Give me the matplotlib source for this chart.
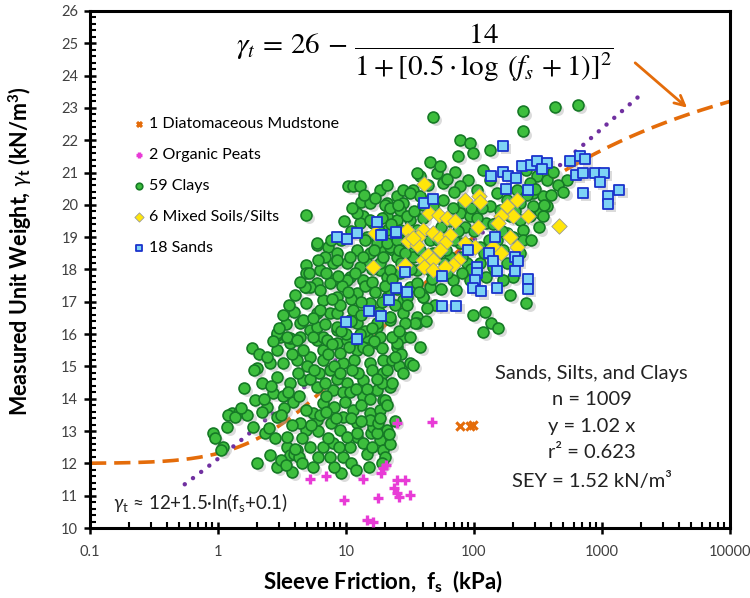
import numpy as np
import matplotlib
matplotlib.use("Agg")
import matplotlib.pyplot as plt
import matplotlib.transforms as mtransforms
from matplotlib.ticker import LogLocator, FuncFormatter, MultipleLocator

plt.rcParams['font.family'] = ['Lato', 'DejaVu Sans']
plt.rcParams['mathtext.fontset'] = 'custom'
plt.rcParams['mathtext.rm'] = 'Lato'
plt.rcParams['mathtext.it'] = 'Lato:italic'
plt.rcParams['mathtext.bf'] = 'Lato:bold'

# (sleeve friction fs kPa, unit weight kN/m3)
clays = [
    (0.92, 12.93), (0.95, 12.8), (1.1, 12.52), (1.05, 12.42), (1.17, 13.14), (1.28, 13.55), (1.2, 13.5),
    (1.45, 13.6), (1.6, 14.33), (1.83, 15.56), (2.0, 14.94), (1.9, 14.9), (1.95, 13.96), (1.89, 13.14),
    (2.0, 12.0), (2.55, 12.26), (2.87, 11.9), (3.76, 11.74), (2.33, 12.93), (2.79, 12.78), (3.44, 12.52),
    (3.65, 12.26), (4.12, 12.41), (5.23, 12.52), (6.64, 12.52), (7.97, 12.62), (9.5, 12.2), (9.2, 11.69),
    (10.7, 12.52), (12.1, 12.83), (13.7, 12.62), (15.8, 12.93), (18.4, 12.72), (17.4, 13.34), (20.8, 13.03),
    (19.6, 12.41), (15.4, 13.55), (11.4, 13.65), (12.1, 13.24), (8.97, 13.03), (7.6, 13.24), (5.9, 13.34),
    (4.9, 13.03), (4.37, 13.24), (3.44, 12.83), (2.87, 13.45), (2.4, 13.76), (2.7, 14.17), (3.24, 14.07),
    (3.88, 13.91), (5.55, 13.55), (6.64, 13.86), (7.97, 14.27), (5.9, 14.37), (4.6, 14.58), (3.65, 14.48),
    (2.87, 14.68), (2.55, 15.1), (2.87, 15.51), (3.65, 15.72), (4.37, 15.92), (3.05, 15.92), (3.24, 15.1),
    (4.12, 15.2), (5.23, 15.3), (6.64, 15.51), (7.5, 14.9), (9.5, 15.1), (10.1, 14.48), (13.7, 14.58),
    (13.7, 14.07), (17.4, 14.27), (19.6, 13.96), (15.4, 15.1), (19.6, 14.79), (12.1, 15.51), (17.4, 15.72),
    (8.45, 15.72), (5.9, 15.82), (8.0, 13.76), (9.5, 13.45), (16.4, 13.14), (10.1, 12.83), (4.9, 13.65),
    (3.9, 12.3), (4.3, 12.2), (4.0, 12.45),
    (4.9, 17.47), (6.64, 17.06), (7.5, 16.65), (5.9, 16.65), (4.37, 16.34), (2.87, 15.98), (3.65, 15.87),
    (5.23, 16.13), (6.64, 15.92), (8.45, 16.13), (10.7, 16.44), (15.4, 16.85), (17.4, 16.23), (22, 16.44),
    (24.9, 15.61), (31.6, 15.1), (28, 15.92), (13.7, 15.61), (9, 15.41), (6.64, 15.2), (19.6, 15.2),
    (22, 14.37), (15.4, 13.34), (17.4, 12.93), (12.1, 12.93),
    (4.9, 19.69), (10.4, 20.57), (11.4, 20.57), (12.8, 20.57), (13.2, 20.1), (13.7, 19.64), (12.8, 19.43),
    (5.9, 18.76), (7.3, 18.71), (8.45, 18.5), (4.9, 18.14), (4.9, 17.88), (6.25, 17.99), (7.97, 18.2),
    (10.1, 18.2), (12.1, 18.61), (20.8, 20.05), (24.9, 20.26), (16.4, 19.43), (20.8, 19.23), (14.5, 19.02),
    (18.4, 18.61), (23.3, 18.61), (14.5, 18.2), (18.4, 17.99), (10.7, 17.78), (7.97, 17.68), (5.9, 17.58),
    (5.23, 17.47), (4.78, 17.47), (5.1, 17.88), (20.1, 20.0), (5.9, 18.81), (8.45, 18.3), (10.7, 18.4),
    (12.8, 18.09), (15.4, 18.5), (17.4, 18.81), (22, 18.71), (24.9, 18.4), (18.4, 18.2), (20.8, 17.78),
    (13.7, 17.68), (10.1, 17.68), (7.5, 17.58), (6.25, 17.37), (8.45, 17.16), (12.1, 17.27), (15.4, 16.96),
    (11.4, 16.75), (8.45, 16.65), (6.25, 16.75), (4.9, 16.96), (4.6, 16.44), (5.9, 16.23), (8.45, 16.23),
    (12.1, 16.34), (17.4, 16.34), (22, 16.54), (28, 16.65), (35.7, 16.54), (28, 17.06), (20.8, 17.16),
    (31.6, 17.47), (40, 17.16), (45, 17.47), (35.7, 17.99), (45, 17.99), (31.6, 18.5), (35.7, 19.02),
    (28, 19.02), (31.6, 19.54), (28, 20.05), (33.5, 20.46), (37.8, 20.88), (45, 20.16), (57.5, 20.67),
    (51, 20.98), (24.9, 19.54), (15.4, 19.54), (12.1, 19.74), (15.4, 20.05), (18.4, 20.46), (28, 20.46),
    (2.87, 16.03), (3.44, 15.92), (4.12, 15.82), (5.55, 15.92), (7.05, 15.82), (10.1, 15.82), (14.5, 15.92),
    (18.4, 15.92), (24.9, 15.72), (31.6, 15.92), (35.7, 16.34),
    (48, 22.73), (243, 22.89), (430, 23.04), (653, 23.1), (243, 22.27), (78, 22.01), (93, 21.91),
    (98.5, 21.6), (75, 21.5), (45, 21.34), (54, 21.19), (35.7, 20.98), (133, 21.7), (71, 21.03),
    (90, 20.77), (118, 21.08), (78, 20.57), (105, 20.46), (133, 20.77), (257, 21.08), (310, 20.88),
    (370, 20.77), (418, 21.03), (530, 20.77), (272, 20.67), (215, 20.46), (290, 20.36), (346, 20.26),
    (370, 19.95), (330, 19.74), (290, 19.95), (228, 20.05), (180, 20.16), (150, 20.36), (160, 19.84),
    (133, 19.95), (111, 20.05), (82, 20.05), (57.5, 20.16), (48, 19.95), (37.8, 20.26), (31.6, 20.36),
    (26.3, 19.84), (20.8, 19.64), (29.7, 19.64), (57.5, 19.54), (78, 19.74), (93, 19.64), (125, 19.43),
    (191, 19.64), (228, 19.54), (272, 19.64), (346, 19.64), (243, 19.23), (180, 19.12), (150, 18.92),
    (111, 18.71), (78, 18.81), (61, 19.02), (45, 18.92), (35.7, 19.23), (26.3, 19.23), (20.8, 18.81),
    (26.3, 18.61), (33.5, 18.4), (48, 18.5), (65, 18.4), (88, 18.2), (111, 18.2), (141, 18.09),
    (180, 18.2), (203, 17.78), (169, 17.68), (125, 17.78), (93, 17.68), (69, 17.68), (48, 17.78),
    (35.7, 17.58), (26.3, 17.88), (22, 17.99), (22, 17.37), (29.7, 17.16), (40, 17.16), (73, 17.37),
    (191, 17.21), (257, 16.96), (98.5, 16.6), (122, 16.7), (137, 16.34), (155, 16.18), (118, 16.08),
    (34.5, 16.34), (29, 16.34), (33.5, 15.05), (19, 14.48), (20, 13.96), (18.4, 13.65), (17.8, 13.24),
    (19, 15.56), (22.7, 15.2),
    (9, 16.9), (11, 17.1), (13, 16.6), (14, 17.5), (16, 17.6), (10, 16.0), (11.5, 15.2), (12.5, 14.8),
    (9.5, 14.2), (8.5, 14.6), (7, 14.1), (6.2, 14.8), (7.2, 15.4), (10.5, 15.6), (14.5, 14.3), (16, 14.9),
    (16.5, 15.8), (23, 15.9), (26, 16.1), (30, 16.9), (25, 17.4), (27, 18.2), (38, 18.6), (42, 18.1),
    (52, 18.9), (58, 18.2), (62, 17.9), (55, 17.4), (50, 16.9), (42, 16.4), (30, 18.9), (22, 19.9),
    (18, 19.2), (40, 19.6), (55, 19.3), (68, 19.9), (85, 19.3), (100, 19.2), (120, 18.5), (95, 18.0),
    (80, 17.9), (70, 18.9), (38, 15.6), (26, 15.0), (23, 14.5), (21, 13.8), (24, 13.3), (22, 12.6),
    (14.5, 12.3), (11, 12.0), (8, 11.9), (6, 12.2), (3.1, 12.1), (4.5, 12.0), (3.3, 13.7), (2.2, 14.5),
    (2.5, 13.1), (1.7, 13.5), (2.1, 15.4), (3.4, 16.3), (3.9, 16.7), (5.5, 16.5), (6.8, 16.3), (7.8, 17.1),
    (9.3, 17.5), (11.8, 17.9), (13.5, 18.4), (6.9, 18.4), (9.2, 18.9), (11, 19.2), (16, 18.0), (20, 17.5),
    (24, 16.9), (18, 16.7), (14, 16.1), (8, 15.0), (5.2, 14.6), (4.3, 14.1), (6.0, 13.0), (7.2, 12.8),
    (8.8, 12.5), (13, 13.8), (11, 13.4), (27, 15.4), (16, 12.5), (20, 12.2),
    (1.35, 13.45), (1.5, 13.7), (2.2, 13.6), (2.3, 14.0), (2.6, 14.4), (2.4, 15.3), (2.7, 15.8), (3.0, 16.2),
    (3.2, 16.6), (3.6, 16.9), (4.0, 17.2), (4.4, 17.6), (3.8, 15.4), (4.6, 15.5), (5.0, 15.0), (5.6, 14.9),
    (4.2, 14.8), (3.5, 14.2), (3.1, 13.5), (3.8, 13.2), (4.5, 12.8), (5.3, 13.2), (6.3, 13.5), (7.0, 13.6),
    (8.4, 13.4), (9.8, 13.9), (10.8, 14.2), (12, 14.3), (11.2, 14.9), (9.0, 14.8), (6.8, 14.5), (7.8, 15.7),
    (9.2, 16.1), (11, 16.4), (12.8, 16.0), (14.8, 15.5), (16, 16.2), (13.2, 17.0), (10.3, 17.3), (8.6, 17.8),
    (7.0, 17.9), (6.0, 18.3), (7.6, 18.9), (9.6, 19.5), (11.2, 19.9), (13.8, 20.3), (16.8, 20.2), (19, 19.6),
    (22.5, 19.4), (25, 18.9), (19.6, 18.4), (16.7, 18.6), (14.2, 18.9), (17, 17.3), (19, 17.0), (23, 17.7),
    (26, 18.6), (29, 18.5), (32, 18.0), (37, 17.3), (43, 16.8), (47, 17.7), (52, 18.5), (60, 18.6),
    (65, 19.5), (75, 19.2), (80, 18.4), (88, 18.8), (105, 19.6), (115, 19.9), (140, 19.4), (165, 19.2),
    (200, 19.0), (240, 18.9), (210, 19.8), (260, 20.3), (300, 20.5), (350, 20.0), (400, 20.3), (450, 20.6),
    (500, 20.4), (320, 19.3), (280, 18.9), (230, 18.5), (170, 18.6), (130, 18.9), (95, 19.9), (70, 20.4),
    (62, 20.8), (44, 20.6), (40, 20.0), (34, 19.8), (25.5, 20.0), (21, 20.6), (24, 15.3), (28, 14.8),
    (21, 14.9), (17.5, 14.6), (15.5, 14.0), (13, 13.3), (18.5, 13.4), (21.5, 12.9), (19, 12.0), (15, 11.9),
    (12, 11.8), (7.5, 12.2), (5.5, 11.9), (3.4, 11.95),
]

sands = [
    (169, 21.81), (236, 21.21), (281, 21.24), (311, 21.36), (370, 21.29), (339, 21.12), (137, 20.9),
    (169, 21.03), (185, 20.9), (212, 20.83), (177, 20.49), (262, 20.46), (566, 21.37), (673, 21.5),
    (735, 21.43), (632, 20.93), (707, 21.0), (880, 21.0), (1032, 21.0), (960, 20.72), (710, 20.36),
    (1370, 20.46), (1112, 20.26), (1112, 20.03), (41, 20.05), (48, 20.18), (24.5, 19.14), (19, 19.07),
    (146, 19.02), (90, 18.61), (131, 18.52), (141, 18.25), (210, 18.4), (220, 18.25), (105, 18.09),
    (150, 17.94), (210, 17.94), (105, 17.88), (101, 17.68), (98.5, 17.42), (114, 17.32), (150, 17.42),
    (265, 17.7), (262, 17.4), (56, 17.81), (29, 17.92), (24.5, 17.42), (30, 17.3), (21.8, 17.06),
    (56, 16.87), (73, 16.87), (8.5, 19.0), (10.1, 18.94), (12.1, 19.12), (17.6, 19.48), (18.7, 19.07),
    (24.4, 19.15), (15.2, 16.73), (18.7, 16.57), (10.0, 16.39), (12.2, 15.85),
]

mixed = [
    (41, 20.64), (85, 20.16), (110, 20.26), (111, 20.1), (218, 20.16), (180, 19.97), (44.5, 19.74),
    (53.5, 19.69), (61, 19.59), (71, 19.5), (203, 19.64), (262, 19.64), (164, 19.66), (155, 19.43),
    (458, 19.36), (29.7, 19.23), (40, 19.23), (30.6, 18.87), (36.7, 19.02), (48, 19.12), (54, 18.97),
    (65, 19.07), (59, 18.81), (35.7, 18.76), (108, 19.33), (141, 18.71), (191, 19.02), (215, 18.71),
    (85, 18.81), (101, 18.71), (40, 18.3), (44, 18.45), (54, 18.61), (48, 18.3), (75, 18.3), (41, 18.09),
    (69, 18.14), (164, 18.52), (48, 17.99), (59, 18.09), (28, 18.09), (33.5, 18.97), (16.4, 18.09),
    (16.8, 19.12), (29, 18.14),
]

peats = [
    (5.2, 11.51), (7.0, 11.61), (9.6, 10.87), (13.7, 11.51), (14.6, 10.25), (16.3, 10.18), (17.9, 10.92),
    (18.7, 11.71), (19.5, 11.85), (20.5, 11.95), (23.7, 11.23), (24.9, 11.49), (24.9, 11.07), (26, 10.97),
    (28.7, 11.49), (31.6, 11.02), (25.2, 13.24), (47, 13.29),
]

mudstone = [(77.8, 13.17), (93, 13.17), (98.5, 13.19)]

# the two fitted relations written on the chart
fs_curve = np.logspace(-1, 4, 400)
gt_curve = 26 - 14 / (1 + (0.5 * np.log10(fs_curve + 1)) ** 2)
fs_ln = np.logspace(np.log10(0.55), np.log10(1950), 200)
gt_ln = 12 + 1.5 * np.log(fs_ln + 0.1)

fig = plt.figure(figsize=(7.5, 5.98), dpi=100)
ax = fig.add_axes([0.12, 0.117, 0.8533, 0.8647])

ax.plot(fs_curve, gt_curve, color='#E46C0A', lw=2.6, dashes=(4.5, 2.2), zorder=2)
ax.plot(fs_ln, gt_ln, color='#7030A0', lw=3.2, dashes=(0.01, 2.3), dash_capstyle='round', zorder=2)

shadow = ax.transData + mtransforms.ScaledTranslation(2.2 / 72, -2.2 / 72, fig.dpi_scale_trans)


def xy(pts):
    a = np.array(pts)
    return a[:, 0], a[:, 1]


cx, cy = xy(clays)
sx, sy = xy(sands)
mx, my = xy(mixed)
px, py = xy(peats)
dx, dy = xy(mudstone)

ax.scatter(cx, cy, s=62, marker='o', color='#9a9a9a', alpha=0.35, lw=0, transform=shadow, zorder=2.5)
ax.scatter(sx, sy, s=62, marker='s', color='#9a9a9a', alpha=0.35, lw=0, transform=shadow, zorder=2.5)

h_mud = ax.scatter(dx, dy, s=36, marker='x', color='#E46C0A', lw=2.2, zorder=5,
                   label='1 Diatomaceous Mudstone')
h_peat = ax.scatter(px, py, s=50, marker='+', color='#E83BD6', lw=2.4, zorder=5,
                    label='2 Organic Peats')
h_clay = ax.scatter(cx, cy, s=62, marker='o', facecolor='#3DBE3D', edgecolor='#167A26', lw=1.2,
                    zorder=3, label='59 Clays')
h_mix = ax.scatter(mx, my, s=62, marker='D', facecolor='#FFE60A', edgecolor='#9a9a9a', lw=0.6,
                   zorder=4, label='6 Mixed Soils/Silts')
h_sand = ax.scatter(sx, sy, s=62, marker='s', facecolor='#7DD3F5', edgecolor='#1A33CC', lw=1.3,
                    zorder=4.5, label='18 Sands')

ax.set_xscale('log')
ax.set_xlim(0.1, 10000)
ax.set_ylim(10, 26)

ax.yaxis.set_major_locator(MultipleLocator(1))
ax.yaxis.set_minor_locator(MultipleLocator(0.2))
ax.xaxis.set_major_locator(LogLocator(base=10))
ax.xaxis.set_minor_locator(LogLocator(base=10, subs=np.arange(2, 10)))
ax.xaxis.set_major_formatter(FuncFormatter(lambda v, p: '%g' % v))
ax.xaxis.set_minor_formatter(FuncFormatter(lambda v, p: ''))

ax.tick_params(which='major', direction='inout', length=9, width=1.8, labelsize=10.5,
               labelcolor='#404040', top=False, right=False)
ax.tick_params(which='minor', direction='in', length=4.5, width=1.5, top=False, right=False)
ax.tick_params(axis='x', which='major', pad=8)
ax.tick_params(axis='y', which='major', pad=4)
for sp in ax.spines.values():
    sp.set_linewidth(2.2)

ax.set_xlabel(r'Sleeve Friction,  f$_{\mathbf{s}}$  (kPa)', fontsize=16, fontweight='bold')
ax.set_ylabel(r'Measured Unit Weight, $\gamma_{\mathbf{t}}$ (kN/m$^{\mathbf{3}}$)', fontsize=15.5,
              fontweight='bold')
ax.xaxis.set_label_coords(0.458, -0.078)
ax.yaxis.set_label_coords(-0.088, 0.535)

leg = ax.legend(handles=[h_mud, h_peat, h_clay, h_mix, h_sand], loc='upper left',
                bbox_to_anchor=(0.054, 0.807), frameon=False, fontsize=11.5, markerscale=0.6,
                handletextpad=0.1, labelspacing=1.05, handlelength=1.0, borderaxespad=0)

ax.text(0.524, 0.919, r'$\gamma_t\, =\, 26\, -\, \dfrac{14}{1+[0.5\cdot\log\;(f_s\,+1)]^2}$',
        transform=ax.transAxes, ha='center', va='center', fontsize=21, math_fontfamily='stix')
ax.annotate('', xy=(4800, 22.95), xytext=(1750, 24.45),
            arrowprops=dict(arrowstyle='->', color='#E46C0A', lw=2, mutation_scale=18))

ax.text(0.784, 0.195, 'Sands, Silts, and Clays\nn = 1009\ny = 1.02 x\nr² = 0.623\nSEY = 1.52 kN/m³',
        transform=ax.transAxes, ha='center', va='center', fontsize=14.5, linespacing=1.68,
        color='#222222')
ax.text(0.036, 0.05, r'$\gamma_{\rm t}$ ≈ 12+1.5·ln(f$_{\rm s}$+0.1)', transform=ax.transAxes,
        ha='left', va='center', fontsize=13.5, color='#222222')

fig.savefig('out.png', dpi=100)
